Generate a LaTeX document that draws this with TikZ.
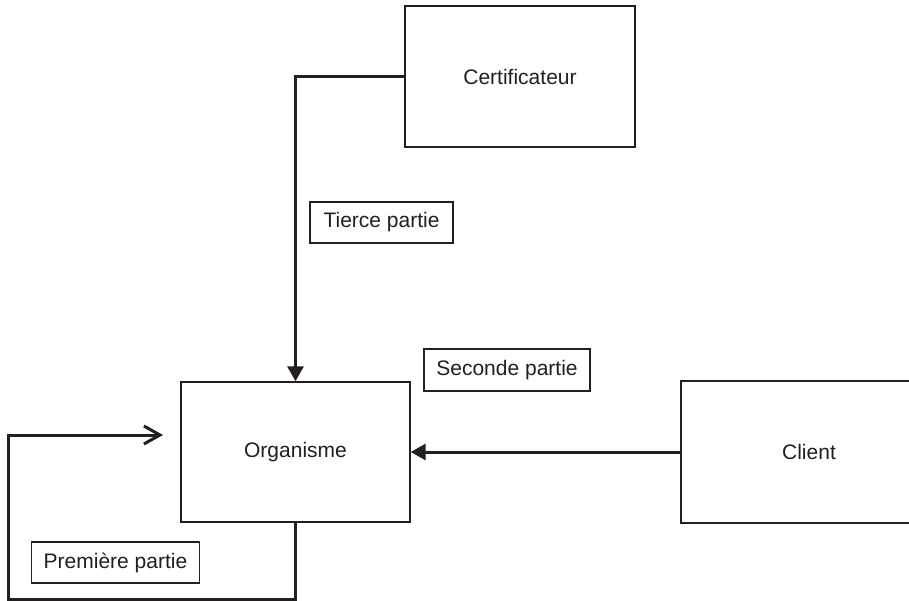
\documentclass[tikz,border=0pt]{standalone}
\usepackage{fontspec}
\setmainfont{Liberation Sans}
\usetikzlibrary{arrows.meta}
\definecolor{ink}{HTML}{231F20}
\begin{document}
\begin{tikzpicture}[x=1pt,y=-1pt,
  box/.style={draw=ink,line width=1.4pt,fill=white,inner sep=0pt,
    font=\fontsize{21}{25}\selectfont,text=ink},
  tag/.style={draw=ink,line width=1.2pt,fill=white,inner sep=0pt,
    font=\fontsize{21}{25}\selectfont,text=ink},
  link/.style={draw=ink,line width=3pt},
  solid head/.style={-{Triangle[width=16pt,length=15pt]}},
  open head/.style={-{Straight Barb[width=18pt,length=16pt,line width=3pt]}}]
\useasboundingbox (0,0) rectangle (909,601);

% main parties
\node[box,minimum width=230pt,minimum height=141pt] (cert) at (520,76.5) {Certificateur};
\node[box,minimum width=229pt,minimum height=140pt] (org) at (295.5,452) {Organisme};
\node[box,minimum width=256pt,minimum height=142pt] (client) at (809,452) {Client};

% relations
\draw[link,solid head] (cert.west) -| (org.north);
\draw[link,solid head] (client.west) -- (org.east);
\coordinate (loopA) at (295.5,599);
\coordinate (loopB) at (8,599);
\coordinate (loopC) at (8,435);
\coordinate (loopD) at (163,435);
\draw[link,open head,line join=miter] (org.south) -- (loopA) -- (loopB) -- (loopC) -- (loopD);

% labels
\node[tag,minimum width=143pt,minimum height=41pt] (tierce) at (381.5,222.5) {Tierce partie};
\node[tag,minimum width=166pt,minimum height=42pt] (seconde) at (507,370) {Seconde partie};
\node[tag,minimum width=168pt,minimum height=41pt] (premiere) at (115.5,562.5) {Première partie};
\end{tikzpicture}
\end{document}
